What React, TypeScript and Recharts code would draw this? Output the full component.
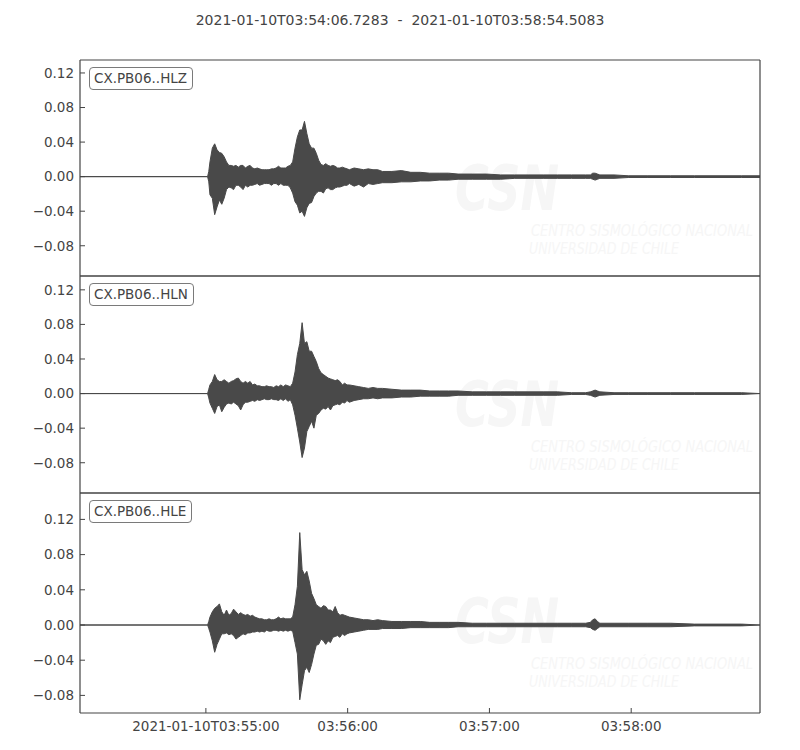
import { ComposedChart, Area, XAxis, YAxis } from "recharts";

// seconds after 2021-01-10T03:54:06.7283
const TIMES = [
  0, 54, 54.5,
  55, 56, 57, 58, 59, 60, 61, 62, 63, 64,
  65, 66, 67, 68, 69, 70, 71, 72, 73, 74,
  75, 76, 77, 78, 79, 80, 81, 82, 83, 84,
  85, 86, 87, 88, 89, 90, 91, 92, 93, 94,
  95, 96, 97, 98, 99, 100, 101, 102, 103, 104,
  105, 106, 107, 108, 109, 110, 111, 112, 113, 114,
  116, 118, 120, 122, 124, 126, 128,
  132, 136, 140, 144, 148, 152, 156,
  160, 166, 172, 178, 184, 190, 196, 202, 208, 214,
  216, 217, 218, 219, 220,
  226, 232, 240, 250, 260, 270, 280, 287.78,
];

// upper / lower envelope of each trace
const HLZ_MAX = [
  0, 0, 0.006,
  0.017, 0.033, 0.038, 0.031, 0.028, 0.027, 0.023, 0.017, 0.013, 0.013,
  0.012, 0.013, 0.011, 0.013, 0.013, 0.01, 0.012, 0.013, 0.01, 0.009,
  0.01, 0.009, 0.008, 0.008, 0.008, 0.008, 0.009, 0.009, 0.01, 0.012,
  0.01, 0.01, 0.01, 0.012, 0.013, 0.017, 0.033, 0.046, 0.054, 0.054,
  0.064, 0.05, 0.038, 0.033, 0.033, 0.027, 0.019, 0.014, 0.013, 0.015,
  0.013, 0.012, 0.013, 0.012, 0.01, 0.01, 0.011, 0.01, 0.009, 0.008,
  0.01, 0.009, 0.008, 0.009, 0.008, 0.008, 0.006,
  0.006, 0.007, 0.005, 0.005, 0.004, 0.004, 0.004,
  0.003, 0.003, 0.003, 0.002, 0.002, 0.002, 0.002, 0.002, 0.002, 0.002,
  0.002, 0.004, 0.004, 0.003, 0.002,
  0.002, 0.001, 0.001, 0.001, 0.001, 0.001, 0.001, 0.001,
];
const HLZ_MIN = [
  0, 0, -0.006,
  -0.021, -0.025, -0.044, -0.035, -0.027, -0.032, -0.025, -0.015, -0.012, -0.013,
  -0.015, -0.01, -0.01, -0.012, -0.015, -0.01, -0.012, -0.01, -0.01, -0.009,
  -0.008, -0.01, -0.009, -0.008, -0.008, -0.008, -0.01, -0.008, -0.008, -0.01,
  -0.008, -0.01, -0.01, -0.01, -0.013, -0.019, -0.029, -0.033, -0.042, -0.04,
  -0.046, -0.036, -0.031, -0.03, -0.023, -0.019, -0.017, -0.017, -0.019, -0.014,
  -0.013, -0.015, -0.015, -0.013, -0.012, -0.012, -0.011, -0.01, -0.01, -0.008,
  -0.011, -0.009, -0.012, -0.008, -0.009, -0.008, -0.007,
  -0.007, -0.006, -0.006, -0.005, -0.005, -0.004, -0.004,
  -0.003, -0.003, -0.003, -0.003, -0.002, -0.002, -0.002, -0.002, -0.002, -0.002,
  -0.002, -0.003, -0.004, -0.003, -0.002,
  -0.002, -0.001, -0.001, -0.001, -0.001, -0.001, -0.001, -0.001,
];

const HLN_MAX = [
  0, 0, 0.005,
  0.01, 0.014, 0.022, 0.016, 0.014, 0.014, 0.016, 0.014, 0.012, 0.014,
  0.015, 0.017, 0.018, 0.014, 0.012, 0.014, 0.012, 0.014, 0.01, 0.011,
  0.009, 0.009, 0.008, 0.008, 0.009, 0.008, 0.008, 0.007, 0.009, 0.008,
  0.01, 0.008, 0.01, 0.009, 0.008, 0.012, 0.025, 0.045, 0.058, 0.082,
  0.058, 0.06, 0.049, 0.049, 0.043, 0.037, 0.029, 0.024, 0.022, 0.02,
  0.018, 0.017, 0.016, 0.015, 0.016, 0.014, 0.01, 0.012, 0.01, 0.01,
  0.009, 0.008, 0.007, 0.006, 0.007, 0.006, 0.006,
  0.005, 0.004, 0.004, 0.004, 0.003, 0.003, 0.003,
  0.003, 0.002, 0.002, 0.002, 0.002, 0.002, 0.002, 0.002, 0.001, 0.001,
  0.002, 0.003, 0.004, 0.003, 0.002,
  0.001, 0.001, 0.001, 0.001, 0.001, 0.001, 0.001, 0,
];
const HLN_MIN = [
  0, 0, -0.005,
  -0.011, -0.017, -0.023, -0.015, -0.013, -0.021, -0.016, -0.012, -0.011, -0.012,
  -0.01, -0.012, -0.014, -0.019, -0.013, -0.01, -0.01, -0.009, -0.008, -0.009,
  -0.007, -0.008, -0.007, -0.006, -0.007, -0.007, -0.006, -0.007, -0.007, -0.008,
  -0.006, -0.008, -0.006, -0.009, -0.007, -0.013, -0.025, -0.04, -0.056, -0.074,
  -0.063, -0.044, -0.038, -0.032, -0.04, -0.025, -0.023, -0.019, -0.017, -0.018,
  -0.015, -0.019, -0.014, -0.013, -0.012, -0.013, -0.01, -0.011, -0.008, -0.01,
  -0.008, -0.007, -0.006, -0.006, -0.005, -0.006, -0.005,
  -0.005, -0.004, -0.004, -0.003, -0.003, -0.003, -0.003,
  -0.002, -0.002, -0.002, -0.002, -0.002, -0.002, -0.002, -0.002, -0.001, -0.001,
  -0.002, -0.003, -0.004, -0.003, -0.002,
  -0.001, -0.001, -0.001, -0.001, -0.001, -0.001, -0.001, 0,
];

const HLE_MAX = [
  0, 0, 0.004,
  0.009, 0.015, 0.019, 0.021, 0.024, 0.015, 0.011, 0.017, 0.011, 0.013,
  0.018, 0.015, 0.012, 0.014, 0.012, 0.011, 0.012, 0.01, 0.011, 0.009,
  0.008, 0.007, 0.007, 0.006, 0.006, 0.007, 0.006, 0.006, 0.007, 0.009,
  0.007, 0.008, 0.007, 0.007, 0.007, 0.009, 0.023, 0.044, 0.105, 0.063,
  0.057, 0.061, 0.05, 0.036, 0.03, 0.023, 0.021, 0.019, 0.022, 0.021,
  0.017, 0.017, 0.015, 0.021, 0.014, 0.011, 0.012, 0.011, 0.01, 0.009,
  0.008, 0.007, 0.006, 0.006, 0.005, 0.006, 0.005,
  0.004, 0.004, 0.004, 0.004, 0.003, 0.003, 0.003,
  0.003, 0.002, 0.002, 0.002, 0.002, 0.002, 0.002, 0.002, 0.002, 0.002,
  0.003, 0.006, 0.007, 0.004, 0.002,
  0.002, 0.002, 0.002, 0.002, 0.001, 0.001, 0.001, 0,
];
const HLE_MIN = [
  0, 0, -0.004,
  -0.008, -0.018, -0.031, -0.022, -0.016, -0.01, -0.01, -0.009, -0.011, -0.01,
  -0.012, -0.016, -0.014, -0.012, -0.01, -0.011, -0.009, -0.009, -0.008, -0.008,
  -0.007, -0.008, -0.007, -0.008, -0.006, -0.007, -0.007, -0.006, -0.006, -0.007,
  -0.006, -0.007, -0.006, -0.007, -0.006, -0.007, -0.02, -0.033, -0.085, -0.068,
  -0.052, -0.048, -0.054, -0.045, -0.033, -0.023, -0.022, -0.016, -0.018, -0.022,
  -0.018, -0.02, -0.014, -0.013, -0.012, -0.014, -0.01, -0.012, -0.01, -0.009,
  -0.008, -0.007, -0.006, -0.005, -0.005, -0.005, -0.004,
  -0.004, -0.004, -0.003, -0.003, -0.003, -0.003, -0.003,
  -0.002, -0.002, -0.002, -0.002, -0.002, -0.002, -0.002, -0.002, -0.002, -0.002,
  -0.003, -0.005, -0.006, -0.004, -0.002,
  -0.002, -0.002, -0.002, -0.002, -0.001, -0.001, -0.001, 0,
];

const Y_TICKS = [-0.08, -0.04, 0, 0.04, 0.08, 0.12];
const X_TICKS = [53.2717, 113.2717, 173.2717, 233.2717];
const X_TICK_LABELS = ["2021-01-10T03:55:00", "03:56:00", "03:57:00", "03:58:00"];
const T_END = 287.78;
const TITLE = "2021-01-10T03:54:06.7283  -  2021-01-10T03:58:54.5083";

const INK = "#444444";
const TRACE = "#494949";
const FONT = "'DejaVu Sans', sans-serif";
const NARROW = "'Liberation Sans Narrow', 'DejaVu Sans Condensed', sans-serif";

const PANELS = [
  { label: "CX.PB06..HLZ", max: HLZ_MAX, min: HLZ_MIN, domain: [-0.115, 0.135], top: 60, height: 216 },
  { label: "CX.PB06..HLN", max: HLN_MAX, min: HLN_MIN, domain: [-0.115, 0.136], top: 276, height: 217 },
  { label: "CX.PB06..HLE", max: HLE_MAX, min: HLE_MIN, domain: [-0.1, 0.15], top: 493, height: 217 },
];

function formatY(v: number): string {
  return v < 0 ? "\u2212" + Math.abs(v).toFixed(2) : v.toFixed(2);
}

function formatX(v: number): string {
  const i = X_TICKS.findIndex((t) => Math.abs(t - v) < 0.01);
  return i >= 0 ? X_TICK_LABELS[i] : "";
}

const PAD = 3;

function TracePanel({ panel, last }: { panel: (typeof PANELS)[number]; last: boolean }) {
  const rows = TIMES.map((t, i) => ({ t, band: [panel.min[i], panel.max[i]] }));
  const axisLine = { stroke: INK, strokeWidth: 1.2 };
  // axes need at least 1px of room or recharts skips them
  const bottomH = last ? 30 : 1;
  return (
    <div style={{ position: "absolute", left: 0, top: panel.top - PAD }}>
      <ComposedChart
        width={800}
        height={panel.height + PAD * 2 + (last ? 30 : 0)}
        data={rows}
        margin={{ top: PAD - 1, right: 39, bottom: last ? 0 : PAD - 1, left: 0 }}
      >
        <XAxis
          xAxisId="b"
          dataKey="t"
          type="number"
          domain={[0, T_END]}
          allowDataOverflow
          ticks={X_TICKS}
          interval={0}
          tickFormatter={formatX}
          height={bottomH}
          tickSize={-5}
          tickMargin={13}
          axisLine={axisLine}
          tickLine={{ stroke: INK }}
          tick={last ? { fill: INK, fontSize: 13.5, fontFamily: FONT } : false}
        />
        <XAxis
          xAxisId="t"
          orientation="top"
          dataKey="t"
          type="number"
          domain={[0, T_END]}
          allowDataOverflow
          ticks={X_TICKS}
          interval={0}
          height={1}
          tickSize={-5}
          axisLine={axisLine}
          tickLine={{ stroke: INK }}
          tick={false}
        />
        <YAxis
          yAxisId="l"
          type="number"
          domain={panel.domain}
          allowDataOverflow
          ticks={Y_TICKS}
          interval={0}
          tickFormatter={formatY}
          width={80}
          tickSize={-5}
          tickMargin={11}
          axisLine={axisLine}
          tickLine={{ stroke: INK }}
          tick={{ fill: INK, fontSize: 13.5, fontFamily: FONT }}
        />
        <YAxis
          yAxisId="r"
          orientation="right"
          type="number"
          domain={panel.domain}
          allowDataOverflow
          ticks={Y_TICKS}
          interval={0}
          width={1}
          tickSize={-5}
          axisLine={axisLine}
          tickLine={{ stroke: INK }}
          tick={false}
        />
        <Area
          xAxisId="b"
          yAxisId="l"
          dataKey="band"
          type="linear"
          stroke={TRACE}
          strokeWidth={1}
          fill={TRACE}
          fillOpacity={1}
          dot={false}
          activeDot={false}
          isAnimationActive={false}
        />
      </ComposedChart>
    </div>
  );
}

function Watermark({ top }: { top: number }) {
  const c = "#f6f6f6";
  return (
    <g fontStyle="italic" fill={c}>
      <text x={455} y={top + 150} fontFamily={FONT} fontSize={62} fontWeight="bold" textLength={104} lengthAdjust="spacingAndGlyphs">
        CSN
      </text>
      <text x={531} y={top + 176} fontFamily={NARROW} fontSize={16} textLength={222} lengthAdjust="spacingAndGlyphs">
        CENTRO SISMOLÓGICO NACIONAL
      </text>
      <text x={529} y={top + 194} fontFamily={NARROW} fontSize={16} textLength={150} lengthAdjust="spacingAndGlyphs">
        UNIVERSIDAD DE CHILE
      </text>
    </g>
  );
}

export default function App() {
  return (
    <div
      style={{
        position: "absolute",
        left: 0,
        top: 0,
        width: 800,
        height: 750,
        background: "#fff",
        fontFamily: FONT,
        color: INK,
      }}
    >
      <svg width={800} height={750} style={{ position: "absolute", left: 0, top: 0 }}>
        {PANELS.map((p) => (
          <Watermark key={p.label} top={p.top} />
        ))}
      </svg>
      <div
        style={{
          position: "absolute",
          top: 12,
          left: 0,
          width: 800,
          textAlign: "center",
          fontSize: 14,
          whiteSpace: "pre",
        }}
      >
        {TITLE}
      </div>
      {PANELS.map((p, i) => (
        <TracePanel key={p.label} panel={p} last={i === PANELS.length - 1} />
      ))}
      {PANELS.map((p) => (
        <div
          key={p.label + "-box"}
          style={{
            position: "absolute",
            left: 89,
            top: p.top + 7,
            height: 21,
            lineHeight: "21px",
            padding: "0 5px 0 4px",
            border: "1px solid #7a7a7a",
            borderRadius: 4,
            background: "#fff",
            fontSize: 13.5,
          }}
        >
          {p.label}
        </div>
      ))}
    </div>
  );
}
